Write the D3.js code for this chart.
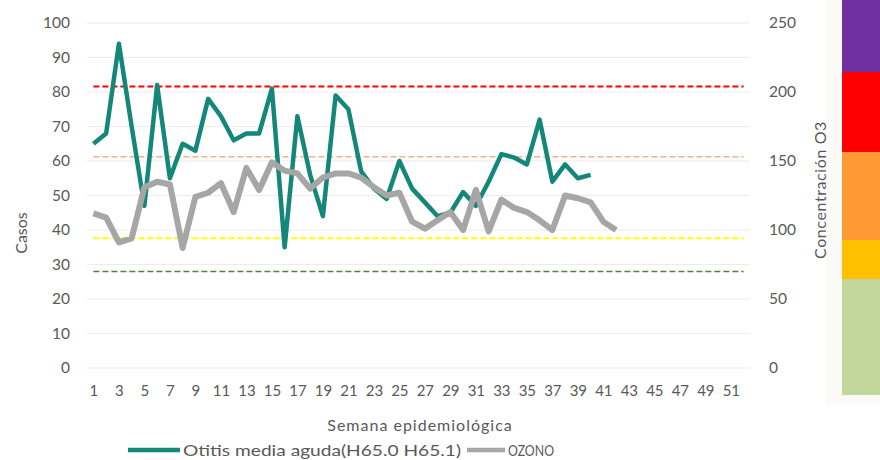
<!DOCTYPE html>
<html>
<head>
<meta charset="utf-8">
<script src="https://cdn.jsdelivr.net/npm/d3@7"></script>
<style>
    body { margin: 0; background: #ffffff; }
    svg { display: block; font-family: Lato, "Open Sans", sans-serif; }
</style>
</head>
<body>
<svg id="chart" width="880" height="460"></svg>
<script>
// semanas 1..52
const weeks = d3.range(1, 53);
const weekLabels = weeks.filter(w => w % 2 === 1);

// casos por semana (eje izquierdo)
const otitis = [65, 68, 94, 70, 47, 82, 55, 65, 63, 78, 73, 66, 68, 68, 81, 35, 73, 56, 44, 79,
    75, 57, 52, 49, 60, 52, 48, 44, 45, 51, 47, 54, 62, 61, 59, 72, 54, 59, 55, 56];

// concentración de ozono (eje derecho)
const ozono = [112, 109, 91, 94, 131, 135, 133, 87, 124, 127, 134, 113, 145, 129, 149, 143, 141, 130, 138, 141,
    141, 138, 131, 125, 127, 106, 101, 107, 113, 100, 129, 99, 122, 116, 113, 107, 100, 125, 123, 120,
    106, 100];

// umbrales (eje derecho)
const thresholds = [
    { value: 204, color: "#ff0000", width: 2 },
    { value: 153, color: "#f4b183", width: 1.5 },
    { value: 94, color: "#ffff00", width: 2 },
    { value: 70, color: "#548235", width: 1.5 }
];

const leftTicks = d3.range(0, 101, 10);
const rightTicks = d3.range(0, 251, 50);

// barra de colores a la derecha
const bands = [
    { y0: 0, y1: 72, color: "#7030a0" },
    { y0: 72, y1: 152, color: "#ff0000" },
    { y0: 152, y1: 240, color: "#ff9933" },
    { y0: 240, y1: 279, color: "#ffc000" },
    { y0: 279, y1: 395, color: "#c3d69b" }
];

const svg = d3.select("#chart");

const x = d3.scalePoint().domain(weeks).range([93.4, 743.6]);
const yL = d3.scaleLinear().domain([0, 100]).range([368, 23]);
const yR = d3.scaleLinear().domain([0, 250]).range([368, 23]);

// fondo a la derecha
svg.append("rect")
    .attr("x", 826).attr("y", 0).attr("width", 54).attr("height", 405)
    .attr("fill", "#fcfaf6");

svg.selectAll(".band")
    .data(bands)
    .enter().append("rect")
    .attr("x", 842).attr("width", 38)
    .attr("y", d => d.y0)
    .attr("height", d => d.y1 - d.y0)
    .attr("fill", d => d.color);

// gridlines
svg.append("g")
    .selectAll("line")
    .data(leftTicks)
    .enter().append("line")
    .attr("x1", 87).attr("x2", 750)
    .attr("y1", d => yL(d)).attr("y2", d => yL(d))
    .attr("stroke", "#ececec").attr("stroke-width", 1.2);

// left axis
const axisL = svg.append("g")
    .attr("transform", "translate(87,0)")
    .call(d3.axisLeft(yL).tickValues(leftTicks).tickSize(0).tickPadding(17));
axisL.select(".domain").remove();
axisL.selectAll("text").attr("font-size", 15.5).attr("fill", "#595959").attr("font-family", "Lato, sans-serif");

// right axis
const axisR = svg.append("g")
    .attr("transform", "translate(750,0)")
    .call(d3.axisRight(yR).tickValues(rightTicks).tickSize(0).tickPadding(19));
axisR.select(".domain").remove();
axisR.selectAll("text").attr("font-size", 15.5).attr("fill", "#595959").attr("font-family", "Lato, sans-serif");

// x axis
const axisX = svg.append("g")
    .attr("transform", "translate(0,368)")
    .call(d3.axisBottom(x).tickValues(weekLabels).tickSize(0).tickPadding(17));
axisX.select(".domain").remove();
axisX.selectAll("text").attr("font-size", 15).attr("fill", "#595959").attr("font-family", "Lato, sans-serif");

// threshold dashed lines
svg.selectAll(".thr")
    .data(thresholds)
    .enter().append("line")
    .attr("x1", x(1)).attr("x2", x(52))
    .attr("y1", d => yR(d.value)).attr("y2", d => yR(d.value))
    .attr("stroke", d => d.color)
    .attr("stroke-width", d => d.width)
    .attr("stroke-dasharray", "6,3");

const lineL = d3.line().x((d, i) => x(i + 1)).y(d => yL(d));
const lineR = d3.line().x((d, i) => x(i + 1)).y(d => yR(d));

svg.append("path")
    .datum(otitis)
    .attr("d", lineL)
    .attr("fill", "none")
    .attr("stroke", "#13877a")
    .attr("stroke-width", 4.5)
    .attr("stroke-linejoin", "round");

svg.append("path")
    .datum(ozono)
    .attr("d", lineR)
    .attr("fill", "none")
    .attr("stroke", "#a6a6a6")
    .attr("stroke-width", 6)
    .attr("stroke-linejoin", "round");

// axis titles
svg.append("text")
    .attr("transform", "translate(27,233) rotate(-90)")
    .attr("text-anchor", "middle")
    .attr("font-size", 16).attr("fill", "#595959")
    .text("Casos");

svg.append("text")
    .attr("transform", "translate(826,190) rotate(-90)")
    .attr("text-anchor", "middle")
    .attr("font-size", 16).attr("fill", "#595959")
    .attr("letter-spacing", 0.6)
    .text("Concentración O3");

svg.append("text")
    .attr("x", 420).attr("y", 431)
    .attr("text-anchor", "middle")
    .attr("font-size", 16).attr("fill", "#595959")
    .attr("letter-spacing", 1)
    .text("Semana epidemiológica");

// legend
const legend = [
    { name: "Otitis media aguda(H65.0 H65.1)", color: "#13877a", x1: 128, x2: 180, len: 278 },
    { name: "OZONO", color: "#a6a6a6", x1: 467, x2: 505, len: 46 }
];
const lg = svg.selectAll(".lg").data(legend).enter().append("g");
lg.append("line")
    .attr("x1", d => d.x1).attr("x2", d => d.x2)
    .attr("y1", 450).attr("y2", 450)
    .attr("stroke", d => d.color).attr("stroke-width", 4.5);
lg.append("text")
    .attr("x", d => d.x2 + 3).attr("y", 456)
    .attr("font-size", 16).attr("fill", "#595959")
    .attr("textLength", d => d.len)
    .attr("lengthAdjust", "spacingAndGlyphs")
    .text(d => d.name);
</script>
</body>
</html>
